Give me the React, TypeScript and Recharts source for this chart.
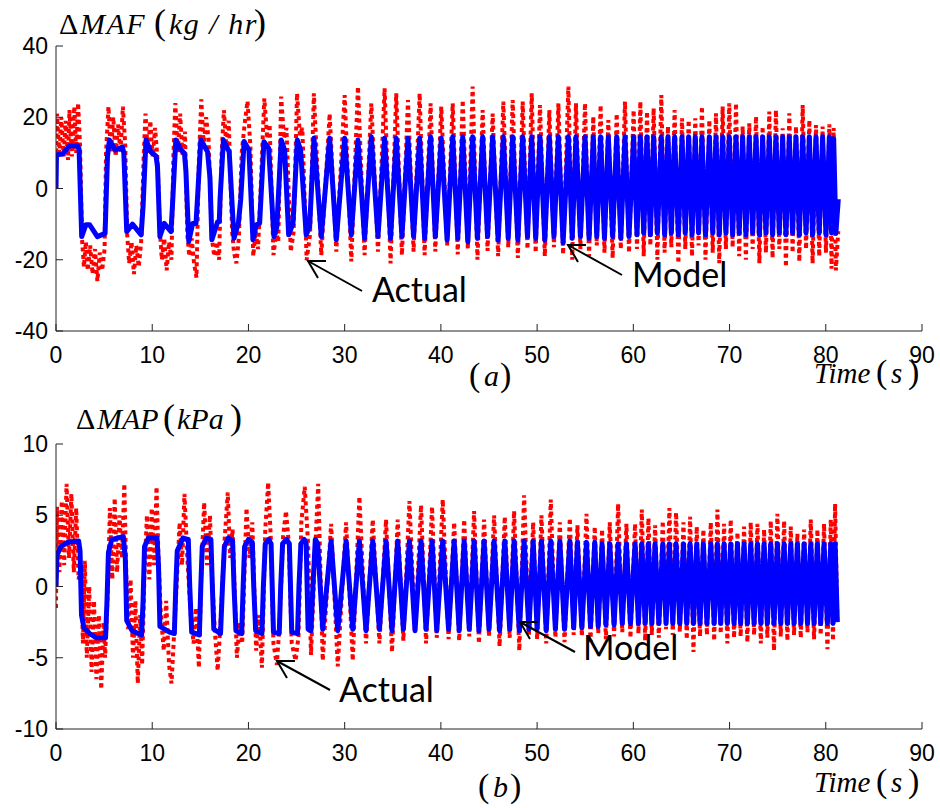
import React from 'react'
import { LineChart, Line, XAxis, YAxis } from 'recharts'

// ─── Data ───────────────────────────────────────────────────────────────────

const xTicks = [0, 10, 20, 30, 40, 50, 60, 70, 80, 90]
const mafTicks = [-40, -20, 0, 20, 40]
const mapTicks = [-10, -5, 0, 5, 10]

// (a) ΔMAF, first 27 s: [time, value]
const mafModelEarly = [
  [0, 0], [0.05, 9.5], [0.7, 9.7], [1.4, 12], [2.25, 12], [2.4, 11], [2.67, -13.5], [3.1, -10.2],
  [3.5, -10.2], [4.3, -13.5], [5.1, -12.6], [5.35, 9], [5.55, 13.6], [6.15, 10.8], [6.9, 11.6],
  [7.05, 10], [7.35, -12.1], [7.95, -10], [8.85, -13], [9.05, -5], [9.35, 13.6], [9.85, 10.3],
  [10.4, 9.1], [10.55, 6], [10.8, -13.5], [11.25, -9.8], [11.95, -12.1], [12.1, -5], [12.45, 13.6],
  [13.0, 10.8], [13.35, 9.9], [13.5, 5], [13.8, -14.9], [14.2, -9.8], [14.55, -9.8], [14.7, -3],
  [15.05, 13.6], [15.75, 10.3], [16.0, 3], [16.2, -14.4], [16.8, -9.3], [16.97, -9.3], [17.05, -3],
  [17.4, 13.6], [18.0, 10.3], [18.15, 3], [18.5, -14], [18.95, -9.8], [19.2, -3], [19.55, 13.2],
  [20.05, 10.8], [20.47, -14.4], [20.82, -10.2], [21.16, -9.8], [21.61, 13.1], [22.1, 11.3],
  [22.65, -13.5], [22.95, -10.8], [23.41, 13.6], [23.76, 10.8], [24.18, -13], [24.63, -9.8],
  [25.08, 13.6], [25.42, 10.8], [26.0, -13], [26.36, -10.7], [26.81, 14.1],
]
const mafActualEarly = [
  [0, 8], [0.1, 21], [0.35, 10], [0.55, 20], [0.8, 9], [1.0, 19], [1.25, 8], [1.4, 22], [1.65, 9],
  [1.9, 23], [2.1, 10], [2.3, 24], [2.5, 12], [2.7, -14], [2.9, -22], [3.1, -15], [3.3, -23],
  [3.55, -16], [3.8, -24], [4.05, -17], [4.3, -26], [4.55, -18], [4.8, -23], [5.05, -17], [5.2, 10],
  [5.45, 23], [5.7, 10], [5.95, 20], [6.2, 9], [6.45, 18], [6.7, 10], [6.95, 23], [7.2, 12],
  [7.4, -13], [7.6, -21], [7.85, -15], [8.1, -24], [8.35, -16], [8.6, -22], [8.85, -15], [9.1, 8],
  [9.3, 21], [9.55, 10], [9.8, 19], [10.05, 9], [10.3, 17], [10.55, 8], [10.8, -12], [11.0, -20],
  [11.25, -14], [11.5, -23], [11.75, -15], [12.0, -20], [12.2, 9], [12.4, 24], [12.65, 10],
  [12.9, 21], [13.15, 9], [13.4, 16], [13.65, -13], [13.85, -19], [14.1, -14], [14.35, -21],
  [14.6, -25], [14.85, 8], [15.1, 25], [15.35, 12], [15.6, 20], [15.85, 14], [16.2, -14],
  [16.45, -19], [16.7, -15], [16.95, -20], [17.2, 9], [17.45, 22], [17.7, 12], [17.95, 19],
  [18.3, -12], [18.5, -18], [18.75, -21], [19.0, -14], [19.3, 10], [19.6, 18], [19.9, 24.5],
  [20.2, 12], [20.5, -19], [20.75, -12], [21.0, -17], [21.3, 2], [21.65, 25.3], [21.95, 14],
  [22.2, 18], [22.6, -18.7], [22.9, -12], [23.1, -15], [23.4, 25.8], [23.7, 14], [23.95, 17],
  [24.4, -17.7], [24.7, -12], [25.05, 26.7], [25.35, 15], [25.6, 17], [26.05, -20.1], [26.4, -13],
  [26.8, 26.7],
]
// (a) ΔMAF after 27 s, turning points: [time, model, actual]
const mafSwing = [
  [27.57, -13.5, -18.7], [28.44, 14.1, 21], [29.13, -14.4, -17.7], [30.0, 14.1, 26.2],
  [30.69, -13, -20.5], [31.38, 13.6, 28.6], [32.07, -14, -18.7], [32.77, 14.5, 23.9],
  [33.46, -13.5, -17.7], [34.15, 14.1, 28.1], [34.77, -14, -21], [35.36, 14.1, 26.7],
  [35.95, -13.5, -18.7], [36.58, 14.1, 24.8], [37.16, -13.5, -17.7], [37.79, 14.1, 26.7],
  [38.31, -14, -18.7], [38.93, 14.5, 23.9], [39.42, -13.5, -17.7], [40.04, 14.1, 23],
  [40.65, -14.5, -16], [41.23, 14.5, 23.9], [41.75, -14, -18.5], [42.27, 14.5, 24.8],
  [42.8, -15, -17], [43.3, 14.5, 28.6], [43.8, -14, -20], [44.34, 14.5, 22], [44.85, -13.5, -17.5],
  [45.38, 14.5, 21], [45.95, -14.5, -19], [46.49, 14.5, 24.4], [47.0, -14, -16.5],
  [47.46, 14.5, 24.8], [48.0, -14.5, -19.5], [48.5, 14.5, 24.4], [49.0, -13.5, -17],
  [49.44, 14.5, 26.7], [49.85, -14, -18], [50.3, 14.5, 23.4], [50.8, -14.5, -19], [51.27, 14.5, 22],
  [51.75, -13.5, -16.5], [52.21, 14.5, 23.9], [52.7, -15.2, -18.5], [53.25, 14.5, 28.6],
  [53.65, -14, -20], [54.04, 14.5, 23.9], [54.5, -13.5, -17], [54.98, 14.5, 23.9], [55.4, -14, -19],
  [55.84, 14.5, 20.2], [56.2, -13.5, -16], [56.6, 14.5, 23.4], [57.0, -14, -18], [57.4, 14.5, 19.2],
  [57.85, -13.5, -19.5], [58.27, 14.5, 21], [58.7, -14, -17], [59.13, 14.5, 24.4],
  [59.55, -13.5, -18], [60.03, 14.5, 22], [60.38, -13, -17], [60.73, 14.5, 24.4],
  [61.08, -12.5, -19], [61.42, 14.5, 21.6], [61.77, -13, -16], [62.11, 14.5, 22.5],
  [62.5, -12.5, -20], [62.91, 14.5, 26.2], [63.25, -13, -18], [63.6, 14.5, 17.4],
  [63.95, -12.5, -16.5], [64.29, 14.5, 22], [64.68, -13, -21], [65.06, 14.5, 19.7],
  [65.4, -12.5, -17], [65.75, 14.5, 19.2], [66.1, -13, -19], [66.44, 14.5, 19.7], [66.78, -12.5, -16],
  [67.13, 14.5, 23], [67.5, -13, -20], [67.9, 14.5, 19.2], [68.25, -12.5, -18], [68.59, 14.5, 21.1],
  [68.93, -13, -21], [69.28, 14.5, 23], [69.62, -12.5, -17], [69.97, 14.5, 23.9], [70.32, -13, -16.5],
  [70.67, 14.5, 23.9], [71.0, -12.5, -19], [71.36, 14.5, 17.4], [71.7, -13, -20], [72.05, 14.5, 18.3],
  [72.4, -12.5, -17], [72.75, 14.5, 20.2], [73.1, -13, -21], [73.44, 14.5, 17.4], [73.78, -12.5, -18],
  [74.13, 14.5, 21.6], [74.47, -13, -19.5], [74.82, 14.5, 22], [75.17, -12.5, -17],
  [75.52, 14.5, 16.9], [75.86, -13, -22], [76.21, 14.5, 21.1], [76.55, -12.5, -18],
  [76.9, 14.5, 17.4], [77.25, -13, -20.5], [77.6, 14.5, 23.4], [77.95, -12.5, -17],
  [78.29, 14.5, 19.2], [78.63, -13, -21], [78.98, 14.5, 17.8], [79.32, -12.5, -19],
  [79.67, 14.5, 17.4], [80.02, -13, -18], [80.37, 14.5, 18], [80.6, -12.5, -22.5], [80.82, 14, 17],
  [81.05, -12.5, -23], [81.3, -3, -12],
]

// (b) ΔMAP, first 27.5 s: [time, value]
const mapModelEarly = [
  [0, 0], [0.1, 2.2], [0.5, 2.8], [1.2, 3.1], [2.35, 3.2], [2.5, 2.5], [2.65, -2.0], [2.9, -2.9],
  [3.5, -3.3], [4.2, -3.6], [5.15, -3.6], [5.3, -1], [5.45, 2.4], [5.8, 3.3], [7.0, 3.5], [7.2, 2],
  [7.35, -2.4], [7.9, -3.1], [8.9, -3.4], [9.05, -1], [9.2, 2.8], [9.6, 3.4], [10.5, 3.4],
  [10.65, 1.5], [10.8, -2.8], [11.8, -3.2], [12.3, -3.3], [12.45, 0], [12.6, 2.5], [13.2, 3.4],
  [13.75, 3.3], [13.9, 0], [14.1, -3.2], [14.9, -3.4], [15.05, 0], [15.2, 2.8], [15.6, 3.4],
  [16.1, 3.3], [16.25, 0], [16.4, -3.0], [17.1, -3.3], [17.3, 0], [17.5, 2.8], [17.9, 3.4],
  [18.35, 3.2], [18.5, 0], [18.7, -3.1], [19.3, -3.3], [19.45, 0], [19.6, 2.8], [20.0, 3.3],
  [20.4, 3.1], [20.55, 0], [20.75, -3.1], [21.4, -3.3], [21.55, 0], [21.75, 3.0], [22.1, 3.3],
  [22.35, 3.0], [22.6, -3.2], [23.2, -3.3], [23.35, 0], [23.55, 3.0], [23.95, 3.3], [24.25, 3.0],
  [24.5, -3.2], [25.1, -3.3], [25.25, 0], [25.45, 3.0], [25.8, 3.3], [26.0, 3.0], [26.2, -3.0],
  [26.5, -3.1], [26.7, 0], [26.95, 3.3], [27.2, 3.0],
]
const mapActualEarly = [
  [0, -1.5], [0.1, 5.6], [0.35, 1], [0.6, 6], [0.85, 1.5], [1.1, 7.2], [1.35, 2], [1.6, 6.5],
  [1.85, 1], [2.1, 5.5], [2.35, 0.5], [2.6, 1.5], [2.8, -4], [3.0, 1.8], [3.2, -5], [3.45, 0],
  [3.7, -6], [3.95, -1], [4.2, -6.5], [4.45, -2], [4.7, -7.2], [4.95, -2.5], [5.1, -5], [5.4, 0],
  [5.6, 5.5], [5.85, 0.5], [6.1, 6.2], [6.35, 1], [6.6, 5], [6.85, 2], [7.1, 7.2], [7.3, 1],
  [7.5, -3], [7.75, 0.5], [8.0, -5], [8.25, -1], [8.5, -6.8], [8.75, -2], [8.95, -5.5], [9.2, 1],
  [9.45, 5], [9.7, 0.5], [9.95, 5.5], [10.2, 1.5], [10.45, 7], [10.65, 2], [10.9, -2], [11.2, -4.5],
  [11.45, -1], [11.75, -5.5], [12.0, -6.8], [12.3, -3], [12.6, 1], [12.85, 4.5], [13.1, 1.5],
  [13.35, 6.5], [13.65, 2], [14.0, -2], [14.3, -4], [14.55, -1.5], [14.85, -5.7], [15.1, 1],
  [15.4, 5.9], [15.7, 1.5], [16.0, 5], [16.2, 1], [16.5, -3], [16.8, -5.9], [17.1, -2.5], [17.5, 3],
  [17.85, 6.6], [18.1, 2], [18.35, 4], [18.8, -5], [19.1, -2.5], [19.35, -4], [19.8, 5.5],
  [20.1, 2], [20.4, 4.5], [20.8, -4.5], [21.1, -2], [21.4, -5.7], [21.75, 4], [22.05, 7.3],
  [22.35, 3], [22.6, -4], [22.95, -5.5], [23.2, -3], [23.6, 3.5], [23.9, 5.3], [24.2, 3],
  [24.5, -4], [24.9, -5.2], [25.2, -3.5], [25.5, 4.5], [25.85, 7], [26.2, 3], [26.5, -4.8],
  [26.9, 2], [27.25, 7.2],
]
// (b) ΔMAP after 27.5 s, turning points: [time, model, actual]
const mapSwing = [
  [27.72, -3.0, -5.2], [28.59, 3.2, 4.4], [29.28, -3.1, -5.6], [30.15, 3.2, 4.5], [30.84, -3.0, -5.2],
  [31.53, 3.2, 6.3], [32.22, -3.1, -4.0], [32.92, 3.2, 4.7], [33.61, -3.0, -4.0], [34.3, 3.2, 4.7],
  [34.92, -3.1, -4.6], [35.51, 3.2, 4.7], [36.1, -3.0, -3.8], [36.73, 3.2, 6.0], [37.31, -3.1, -3.3],
  [37.94, 3.2, 5.7], [38.46, -3.0, -4.0], [39.08, 3.2, 5.6], [39.57, -3.1, -3.6], [40.19, 3.2, 6.1],
  [40.8, -3.0, -3.7], [41.38, 3.2, 4.5], [41.9, -3.1, -3.8], [42.42, 3.2, 4.7], [42.95, -3.0, -3.5],
  [43.45, 3.2, 5.3], [43.95, -3.1, -4.0], [44.49, 3.2, 4.7], [45.0, -3.0, -3.5], [45.53, 3.2, 5.0],
  [46.1, -3.1, -4.2], [46.64, 3.2, 4.9], [47.15, -3.0, -3.6], [47.61, 3.2, 5.3], [48.15, -3.1, -4.5],
  [48.65, 3.2, 6.4], [49.15, -3.0, -3.4], [49.59, 3.2, 4.5], [50.0, -3.0, -3.7], [50.45, 3.2, 5.0],
  [50.95, -3.1, -4.0], [51.42, 3.2, 6.1], [51.9, -3.0, -3.6], [52.36, 3.2, 4.5], [52.85, -3.0, -3.9],
  [53.4, 3.2, 4.8], [53.8, -2.9, -3.4], [54.19, 3.1, 4.3], [54.65, -2.9, -3.5], [55.13, 3.1, 5.1],
  [55.55, -2.8, -3.9], [55.99, 3.1, 4.2], [56.35, -2.8, -3.3], [56.75, 3.0, 4.0], [57.15, -2.7, -3.7],
  [57.55, 3.0, 4.5], [58.0, -2.7, -3.5], [58.42, 3.0, 5.8], [58.85, -2.6, -3.2], [59.28, 3.0, 4.4],
  [59.7, -2.6, -3.6], [60.18, 3.0, 4.4], [60.53, -2.6, -3.3], [60.88, 3.0, 5.4], [61.23, -2.6, -3.8],
  [61.57, 3.0, 4.8], [61.92, -2.6, -3.4], [62.26, 3.0, 4.3], [62.65, -2.6, -3.6], [63.06, 3.0, 4.6],
  [63.4, -2.6, -3.0], [63.75, 3.0, 5.5], [64.1, -2.6, -3.4], [64.44, 3.0, 5.2], [64.83, -2.6, -3.2],
  [65.21, 3.0, 4.5], [65.55, -2.6, -3.7], [65.9, 3.0, 4.9], [66.25, -2.6, -4.6], [66.59, 3.0, 4.2],
  [66.93, -2.6, -3.5], [67.28, 3.0, 4.0], [67.65, -2.6, -3.4], [68.05, 3.0, 4.5], [68.4, -2.6, -3.8],
  [68.74, 3.0, 5.4], [69.08, -2.6, -3.3], [69.43, 3.0, 4.4], [69.77, -2.6, -4.0], [70.12, 3.0, 4.7],
  [70.47, -2.6, -3.6], [70.82, 3.0, 3.8], [71.15, -2.6, -3.5], [71.51, 3.0, 4.2], [71.85, -2.6, -3.9],
  [72.2, 3.0, 4.5], [72.55, -2.6, -3.4], [72.9, 3.0, 4.4], [73.25, -2.6, -4.0], [73.59, 3.0, 4.0],
  [73.93, -2.6, -3.6], [74.28, 3.0, 4.6], [74.62, -2.6, -4.5], [74.97, 3.0, 5.1], [75.32, -2.6, -3.5],
  [75.67, 3.0, 4.6], [76.01, -2.6, -3.8], [76.36, 3.0, 4.2], [76.7, -2.6, -3.4], [77.05, 3.0, 3.7],
  [77.4, -2.6, -3.6], [77.75, 3.0, 4.0], [78.1, -2.6, -3.2], [78.44, 3.0, 4.7], [78.78, -2.6, -3.7],
  [79.13, 3.0, 4.0], [79.47, -2.6, -3.4], [79.82, 3.0, 4.4], [80.17, -2.6, -4.4], [80.52, 3.0, 4.7],
  [80.75, -2.6, -3.8], [80.97, 3.0, 5.8], [81.2, -2.5, -2.5],
]

// ─── Series ─────────────────────────────────────────────────────────────────

type Pt = { t: number; v: number }

function series(early: number[][], swing: number[][], col: 1 | 2): Pt[] {
  return [
    ...early.map(([t, v]) => ({ t, v })),
    ...swing.map(row => ({ t: row[0], v: row[col] })),
  ]
}

const mafModel = series(mafModelEarly, mafSwing, 1)
const mafActual = series(mafActualEarly, mafSwing, 2)
const mapModel = series(mapModelEarly, mapSwing, 1)
const mapActual = series(mapActualEarly, mapSwing, 2)

// ─── Panel ──────────────────────────────────────────────────────────────────

const AXIS = '#222'
const TICK_FONT = { fill: '#000', fontSize: 23, fontFamily: '"Liberation Sans", Arial, sans-serif' }

interface PanelProps {
  top: number
  height: number
  plotTop: number
  plotBottom: number
  domain: [number, number]
  yTicks: number[]
  model: Pt[]
  actual: Pt[]
}

function Panel({ top, height, plotTop, plotBottom, domain, yTicks, model, actual }: PanelProps) {
  return (
    <div style={{ position: 'absolute', left: 0, top, width: 940, height }}>
      <LineChart
        width={940}
        height={height}
        margin={{ top: plotTop, right: 18, left: 6, bottom: height - plotBottom - 30 }}
      >
        <XAxis
          type="number"
          dataKey="t"
          domain={[0, 90]}
          ticks={xTicks}
          allowDataOverflow
          height={30}
          tickSize={-7}
          tickMargin={23}
          tick={TICK_FONT}
          axisLine={{ stroke: AXIS }}
          tickLine={{ stroke: AXIS }}
        />
        <XAxis
          xAxisId="top"
          orientation="top"
          type="number"
          dataKey="t"
          domain={[0, 90]}
          ticks={xTicks}
          allowDataOverflow
          height={0}
          tickSize={-7}
          tick={false}
          axisLine={{ stroke: AXIS }}
          tickLine={{ stroke: AXIS }}
        />
        <YAxis
          type="number"
          domain={domain}
          ticks={yTicks}
          allowDataOverflow
          width={50}
          tickSize={-7}
          tickMargin={15}
          tick={TICK_FONT}
          axisLine={{ stroke: AXIS }}
          tickLine={{ stroke: AXIS }}
        />
        <YAxis
          yAxisId="right"
          orientation="right"
          type="number"
          domain={domain}
          ticks={yTicks}
          allowDataOverflow
          width={0}
          tickSize={-7}
          tick={false}
          axisLine={{ stroke: AXIS }}
          tickLine={{ stroke: AXIS }}
        />
        <Line
          data={actual}
          dataKey="v"
          type="linear"
          stroke="#ff0000"
          strokeWidth={4}
          strokeDasharray="4 3.5"
          dot={false}
          activeDot={false}
          isAnimationActive={false}
        />
        <Line
          data={model}
          dataKey="v"
          type="linear"
          stroke="#0000ff"
          strokeWidth={5}
          strokeLinejoin="round"
          dot={false}
          activeDot={false}
          isAnimationActive={false}
        />
      </LineChart>
    </div>
  )
}

// ─── Labels & arrows ────────────────────────────────────────────────────────

const SERIF = '"Liberation Serif", "Times New Roman", serif'
const CALLOUT = 'Lato, "Open Sans", sans-serif'

function Arrow({ tip, tail }: { tip: [number, number]; tail: [number, number] }) {
  const [x, y] = tip
  return (
    <g stroke="#000" strokeWidth={2} fill="none">
      <line x1={x} y1={y} x2={tail[0]} y2={tail[1]} />
      <polyline points={`${x + 18},${y} ${x},${y} ${x + 10},${y + 17}`} />
    </g>
  )
}

function Overlay() {
  return (
    <svg width={940} height={808} style={{ position: 'absolute', left: 0, top: 0, pointerEvents: 'none' }}>
      {/* panel (a) */}
      <text y={34} fontFamily={SERIF} fontSize={30} fill="#000">
        <tspan x={59}>Δ</tspan>
        <tspan x={80} fontStyle="italic" letterSpacing={1.5}>MAF</tspan>
        <tspan x={154} fontSize={36}>(</tspan>
        <tspan x={169} fontStyle="italic" letterSpacing={1.5}>kg / hr</tspan>
        <tspan x={254} fontSize={36}>)</tspan>
      </text>
      <text y={386} fontFamily={SERIF} fontSize={30} fill="#000">
        <tspan x={469} fontSize={34}>(</tspan>
        <tspan x={484} fontStyle="italic">a</tspan>
        <tspan x={500} fontSize={34}>)</tspan>
      </text>
      <text y={383} fontFamily={SERIF} fontSize={29} fill="#000">
        <tspan x={814} fontStyle="italic">Time</tspan>
        <tspan x={876} fontSize={34}>(</tspan>
        <tspan x={891} fontStyle="italic">s</tspan>
        <tspan x={908} fontSize={34}>)</tspan>
      </text>
      <Arrow tip={[308, 261]} tail={[362, 291]} />
      <text x={372} y={302} fontFamily={CALLOUT} fontSize={34} fill="#000">Actual</text>
      <Arrow tip={[568, 245]} tail={[622, 275]} />
      <text x={632} y={287} fontFamily={CALLOUT} fontSize={34} fill="#000">Model</text>

      {/* panel (b) */}
      <text y={429} fontFamily={SERIF} fontSize={30} fill="#000">
        <tspan x={76}>Δ</tspan>
        <tspan x={97} fontStyle="italic">MAP</tspan>
        <tspan x={163} fontSize={36}>(</tspan>
        <tspan x={177} fontStyle="italic">kPa</tspan>
        <tspan x={230} fontSize={36}>)</tspan>
      </text>
      <text y={797} fontFamily={SERIF} fontSize={30} fill="#000">
        <tspan x={478} fontSize={34}>(</tspan>
        <tspan x={493} fontStyle="italic">b</tspan>
        <tspan x={510} fontSize={34}>)</tspan>
      </text>
      <text y={792} fontFamily={SERIF} fontSize={29} fill="#000">
        <tspan x={814} fontStyle="italic">Time</tspan>
        <tspan x={876} fontSize={34}>(</tspan>
        <tspan x={891} fontStyle="italic">s</tspan>
        <tspan x={908} fontSize={34}>)</tspan>
      </text>
      <Arrow tip={[277, 661]} tail={[330, 690]} />
      <text x={339} y={702} fontFamily={CALLOUT} fontSize={34} fill="#000">Actual</text>
      <Arrow tip={[520, 622]} tail={[575, 652]} />
      <text x={583} y={660} fontFamily={CALLOUT} fontSize={34} fill="#000">Model</text>
    </svg>
  )
}

export default function App() {
  return (
    <div style={{ position: 'absolute', left: 0, top: 0, width: 940, height: 808, background: '#fff' }}>
      <Panel
        top={0}
        height={400}
        plotTop={46}
        plotBottom={331}
        domain={[-40, 40]}
        yTicks={mafTicks}
        model={mafModel}
        actual={mafActual}
      />
      <Panel
        top={400}
        height={408}
        plotTop={44}
        plotBottom={329}
        domain={[-10, 10]}
        yTicks={mapTicks}
        model={mapModel}
        actual={mapActual}
      />
      <Overlay />
    </div>
  )
}
